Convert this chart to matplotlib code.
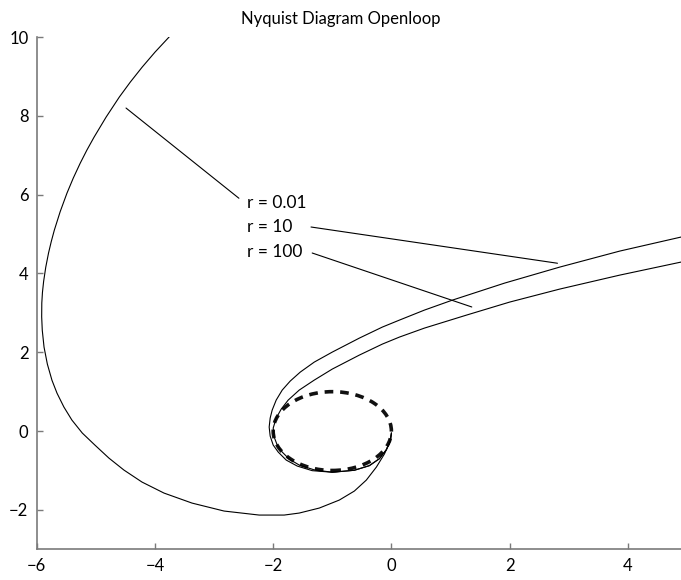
import matplotlib
matplotlib.use("Agg")
import matplotlib.pyplot as plt
from matplotlib.patches import Circle

plt.rcParams['font.family'] = ['Lato', 'DejaVu Sans']

# open loop curve, r = 0.01 (real, imag)
re_001 = [-3.763, -3.999, -4.216, -4.417, -4.603, -4.827, -5.031, -5.153, -5.265, -5.383,
          -5.489, -5.604, -5.703, -5.755, -5.801, -5.848, -5.884, -5.904, -5.915, -5.917,
          -5.907, -5.877, -5.821, -5.743, -5.657, -5.541, -5.406, -5.230, -5.017, -4.780,
          -4.525, -4.220, -3.847, -3.373, -2.831, -2.237, -1.814, -1.559, -1.220, -0.881,
          -0.627, -0.424, -0.254, -0.119, -0.034, 0.0]
im_001 = [10.0, 9.62, 9.24, 8.86, 8.48, 7.97, 7.46, 7.13, 6.80, 6.42,
          6.04, 5.57, 5.10, 4.81, 4.52, 4.16, 3.80, 3.52, 3.25, 2.90,
          2.56, 2.13, 1.70, 1.29, 0.96, 0.61, 0.28, -0.05, -0.355, -0.685,
          -0.990, -1.294, -1.574, -1.828, -2.030, -2.132, -2.132, -2.081, -1.954, -1.751,
          -1.523, -1.244, -0.914, -0.584, -0.305, -0.076]

# r = 10
re_10 = [4.898, 3.864, 2.847, 1.915, 1.034, 0.559, 0.136, -0.153, -0.542, -1.000,
         -1.305, -1.542, -1.712, -1.847, -1.949, -2.017, -2.051, -2.068, -2.051, -2.000,
         -1.915, -1.780, -1.593, -1.339, -1.000, -0.627, -0.373, -0.203, -0.085, -0.017,
         0.0]
im_10 = [4.924, 4.569, 4.162, 3.756, 3.325, 3.071, 2.817, 2.640, 2.360, 2.005,
         1.751, 1.497, 1.269, 1.041, 0.787, 0.533, 0.330, 0.102, -0.127, -0.355,
         -0.533, -0.736, -0.888, -1.005, -1.045, -0.995, -0.878, -0.701, -0.472, -0.244,
         -0.051]

# r = 100
re_100 = [4.898, 3.864, 2.847, 2.000, 1.271, 0.559, 0.136, -0.153, -0.542, -1.000,
          -1.305, -1.559, -1.746, -1.864, -1.949, -2.000, -1.983, -1.932, -1.847, -1.729,
          -1.559, -1.305, -1.000, -0.627, -0.373, -0.203, -0.085, -0.017, 0.0]
im_100 = [4.289, 3.959, 3.604, 3.274, 2.944, 2.614, 2.386, 2.208, 1.929, 1.574,
          1.294, 1.041, 0.787, 0.558, 0.330, 0.076, -0.152, -0.355, -0.533, -0.711,
          -0.863, -0.985, -1.045, -0.995, -0.878, -0.701, -0.472, -0.244, -0.051]

# unit circle around -1
circ_center = (-1.0, 0.0)
circ_radius = 1.0

labels = ['r = 0.01', 'r = 10', 'r = 100']
label_xy = [(-2.44, 5.80), (-2.44, 5.17), (-2.44, 4.55)]
leader_from = [(-4.49, 8.20), (-1.36, 5.18), (-1.34, 4.52)]
leader_to = [(-2.58, 5.91), (2.81, 4.26), (1.36, 3.15)]

fig = plt.figure(figsize=(6.81, 5.8), dpi=100)
ax = fig.add_axes([0.054, 0.053, 0.946, 0.883])

ax.plot(re_001, im_001, color='black', lw=0.8)
ax.plot(re_10, im_10, color='black', lw=0.8)
ax.plot(re_100, im_100, color='black', lw=0.8)

ax.add_patch(Circle(circ_center, circ_radius, fill=False, edgecolor='#111111',
                    lw=2.6, linestyle=(0, (2.4, 1.9))))

for txt, pos, a, b in zip(labels, label_xy, leader_from, leader_to):
    ax.text(pos[0], pos[1], txt, fontsize=12.5, ha='left', va='center')
    ax.annotate('', xy=b, xytext=a,
                arrowprops=dict(arrowstyle='-', color='black', lw=0.8,
                                shrinkA=0, shrinkB=0))

ax.set_xlim(-6, 4.9)
ax.set_ylim(-3, 10)
ax.set_xticks([-6, -4, -2, 0, 2, 4])
ax.set_yticks([-2, 0, 2, 4, 6, 8, 10])

for s in ['top', 'right']:
    ax.spines[s].set_visible(False)
for s in ['left', 'bottom']:
    ax.spines[s].set_color('#7a7a7a')
    ax.spines[s].set_linewidth(1.2)
ax.tick_params(direction='in', length=4, width=1, color='#7a7a7a',
               labelsize=12, pad=6)

fig.text(0.5, 0.968, 'Nyquist Diagram Openloop', ha='center', va='center',
         fontsize=12)

fig.savefig('out.png', dpi=100)
